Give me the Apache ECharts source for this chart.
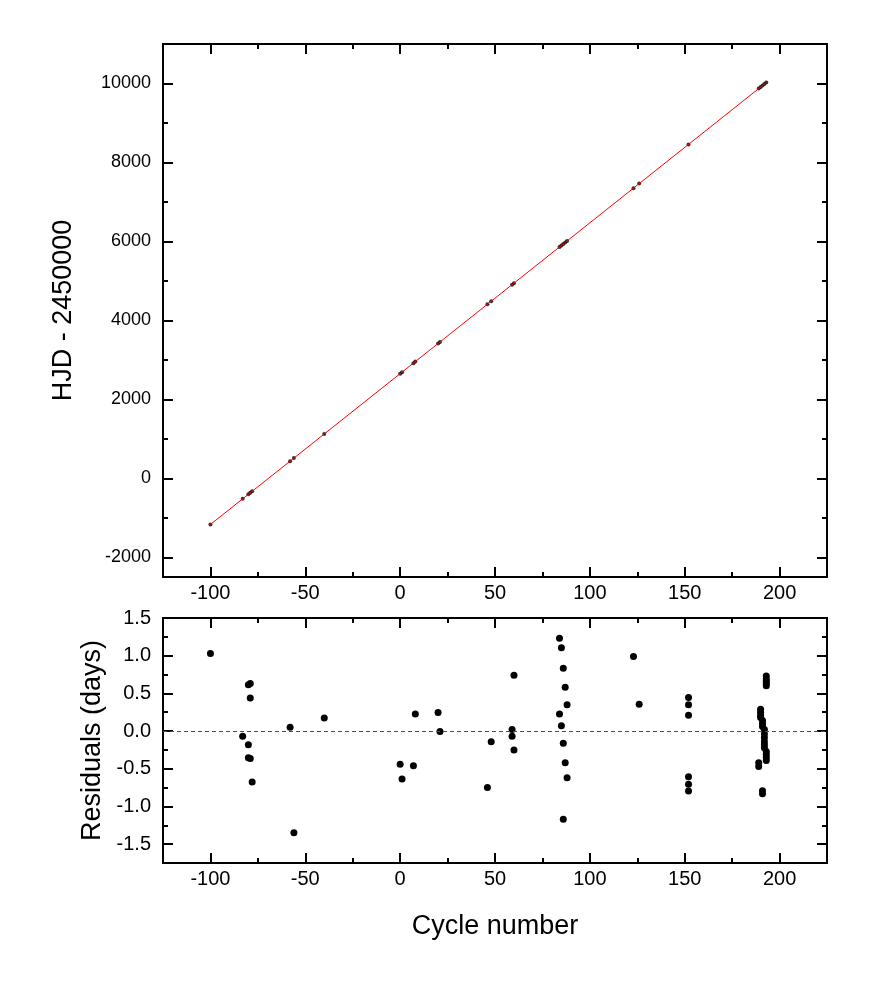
<!DOCTYPE html>
<html>
<head>
    <meta charset="utf-8">
    <title>O-C diagram</title>
    <script src="https://cdn.jsdelivr.net/npm/echarts@6/dist/echarts.min.js"></script>
</head>
<body style="margin:0">
<div id="main" style="width: 872px;height:984px;"></div>
<script type="text/javascript">
    // timings (cycle, HJD - 2450000)
    var hjdCycles = [-100, -83, -80, -79, -78, -58, -56, -40, 0, 1, 7, 8, 20, 21, 46, 48, 59, 60,
        84, 85, 86, 87, 88, 123, 126, 152, 189, 190, 191, 192, 193];
    var hjdValues = [-1170, -520, -406, -368, -330, 434, 511, 1122, 2650, 2688, 2917, 2956, 3414, 3452,
        4407, 4484, 4904, 4942, 5859, 5897, 5935, 5974, 6012, 7349, 7464, 8457, 9870, 9908, 9946, 9985, 10023];

    // linear ephemeris (red line), end points
    var fitCycles = [-100, 193];
    var fitValues = [-1170, 10023];

    // residuals, lower panel
    var resCycles = [-100, -83, -80, -80, -80, -79, -79, -79, -78, -58, -56, -40,
        0, 1, 7, 8, 20, 21, 46, 48, 59, 59, 60, 60,
        84, 84, 85, 85, 86, 86, 86, 87, 87, 88, 88, 123, 126,
        152, 152, 152, 152, 152, 152,
        189, 189, 190, 190, 190, 190, 191, 191, 191, 191, 191,
        192, 192, 192, 192, 192, 192,
        193, 193, 193, 193, 193, 193, 193, 193, 193];
    var resValues = [1.03, -0.07, 0.615, -0.18, -0.355, 0.63, 0.44, -0.365, -0.675, 0.05, -1.35, 0.175,
        -0.44, -0.635, -0.46, 0.225, 0.245, -0.005, -0.75, -0.14, 0.02, -0.07, 0.74, -0.25,
        1.23, 0.225, 1.105, 0.07, 0.835, -0.16, -1.17, 0.58, -0.42, 0.35, -0.62, 0.99, 0.355,
        0.445, 0.35, 0.21, -0.605, -0.705, -0.795,
        -0.42, -0.47, 0.29, 0.25, 0.21, 0.18, 0.14, 0.10, 0.06, -0.79, -0.83,
        0.02, -0.04, -0.09, -0.14, -0.18, -0.22,
        0.73, 0.69, 0.66, 0.63, 0.60, -0.27, -0.31, -0.35, -0.39];

    // tick positions
    var xMajor = [-100, -50, 0, 50, 100, 150, 200];
    var xMinor = [-75, -25, 25, 75, 125, 175];
    var hjdMajor = [-2000, 0, 2000, 4000, 6000, 8000, 10000];
    var hjdMinor = [-1000, 1000, 3000, 5000, 7000, 9000];
    var resMajor = [-1.5, -1.0, -0.5, 0.0, 0.5, 1.0, 1.5];
    var resMinor = [-1.25, -0.75, -0.25, 0.25, 0.75, 1.25];

    var font = 'Liberation Sans';
    var topRect = {left: 163, top: 44, width: 664, height: 533};
    var botRect = {left: 163, top: 618, width: 664, height: 245};

    function zip(a, b) {
        return a.map(function (v, i) { return [v, b[i]]; });
    }

    function grid(r) {
        return {left: r.left, top: r.top, width: r.width, height: r.height, containLabel: false};
    }

    // one axis: ticks pointing inward, optional labels
    function axis(dir, gridIndex, pos, min, max, ticks, len, labels, fmt, size) {
        var a = {
            type: 'value', gridIndex: gridIndex, position: pos, min: min, max: max,
            axisLine: {show: true, onZero: false, lineStyle: {color: '#000', width: 2}},
            axisTick: {show: true, inside: true, length: len, customValues: ticks,
                lineStyle: {color: '#000', width: 2}},
            splitLine: {show: false},
            axisLabel: {show: !!labels}
        };
        if (labels) {
            a.axisLabel = {show: true, customValues: ticks, color: '#000', fontFamily: font,
                fontSize: size || 20, margin: dir === 'x' ? 6 : 12, formatter: fmt};
        }
        return a;
    }

    var fmt1 = function (v) { return (+v).toFixed(1); };
    var fmt0 = function (v) { return String(Math.round(v)); };

    var xAxes = [
        axis('x', 0, 'bottom', -125, 225, xMajor, 10, true, fmt0),
        axis('x', 0, 'top', -125, 225, xMajor, 10, false),
        axis('x', 1, 'bottom', -125, 225, xMajor, 10, true, fmt0),
        axis('x', 1, 'top', -125, 225, xMajor, 10, false),
        axis('x', 2, 'bottom', -125, 225, xMinor, 5, false),
        axis('x', 2, 'top', -125, 225, xMinor, 5, false),
        axis('x', 3, 'bottom', -125, 225, xMinor, 5, false),
        axis('x', 3, 'top', -125, 225, xMinor, 5, false)
    ];
    var yAxes = [
        axis('y', 0, 'left', -2500, 11000, hjdMajor, 10, true, fmt0, 18),
        axis('y', 0, 'right', -2500, 11000, hjdMajor, 10, false),
        axis('y', 1, 'left', -1.75, 1.5, resMajor, 10, true, fmt1, 20),
        axis('y', 1, 'right', -1.75, 1.5, resMajor, 10, false),
        axis('y', 2, 'left', -2500, 11000, hjdMinor, 5, false),
        axis('y', 2, 'right', -2500, 11000, hjdMinor, 5, false),
        axis('y', 3, 'left', -1.75, 1.5, resMinor, 5, false),
        axis('y', 3, 'right', -1.75, 1.5, resMinor, 5, false)
    ];

    var nameStyle = {color: '#000', fontFamily: font, fontSize: 27};
    yAxes[0].name = 'HJD - 2450000';
    yAxes[0].nameLocation = 'middle';
    yAxes[0].nameGap = 86;
    yAxes[0].nameTextStyle = nameStyle;
    yAxes[2].name = 'Residuals (days)';
    yAxes[2].nameLocation = 'middle';
    yAxes[2].nameGap = 56;
    yAxes[2].nameTextStyle = nameStyle;
    xAxes[2].name = 'Cycle number';
    xAxes[2].nameLocation = 'middle';
    xAxes[2].nameGap = 50;
    xAxes[2].nameTextStyle = nameStyle;

    var myChart = echarts.init(document.getElementById('main'));
    myChart.setOption({
        animation: false,
        backgroundColor: '#fff',
        grid: [grid(topRect), grid(botRect), grid(topRect), grid(botRect)],
        xAxis: xAxes,
        yAxis: yAxes,
        series: [
            {
                type: 'scatter', xAxisIndex: 0, yAxisIndex: 0,
                symbolSize: 4, itemStyle: {color: '#000'},
                data: zip(hjdCycles, hjdValues), z: 2
            },
            {
                type: 'line', xAxisIndex: 0, yAxisIndex: 0,
                showSymbol: false, symbol: 'none',
                lineStyle: {color: '#ff0000', width: 1},
                data: zip(fitCycles, fitValues), z: 3
            },
            {
                type: 'scatter', xAxisIndex: 2, yAxisIndex: 2,
                symbolSize: 7, itemStyle: {color: '#000', opacity: 1},
                data: zip(resCycles, resValues), z: 3,
                markLine: {
                    silent: true, symbol: 'none', label: {show: false},
                    lineStyle: {color: '#ff0000', width: 1, type: [4, 3]},
                    data: [{yAxis: 0}]
                }
            }
        ]
    });
</script>
</body>
</html>
